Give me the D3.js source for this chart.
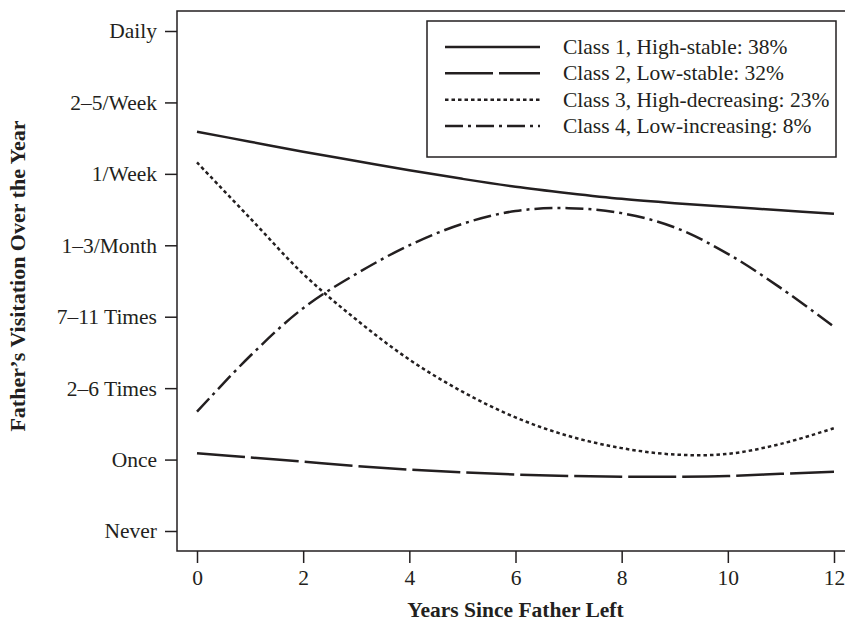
<!DOCTYPE html>
<html>
<head>
<meta charset="utf-8">
<script src="https://cdn.jsdelivr.net/npm/d3@7"></script>
<style>
  html, body { margin: 0; padding: 0; background: #fff; }
  svg { display: block; }
  text { font-family: "Liberation Serif", "Times New Roman", serif; fill: #231f20; }
</style>
</head>
<body>
<div id="chart"></div>
<script>
// data (years since father left, 0..12)
const years = [0, 1, 2, 3, 4, 5, 6, 7, 8, 9, 10, 11, 12];
const xTicks = [0, 2, 4, 6, 8, 10, 12];
const yLabels = ['Never', 'Once', '2\u20136 Times', '7\u201311 Times', '1\u20133/Month', '1/Week', '2\u20135/Week', 'Daily'];

const class1 = [5.59, 5.45, 5.31, 5.18, 5.05, 4.93, 4.82, 4.73, 4.65, 4.59, 4.54, 4.49, 4.44];
const class2 = [1.09, 1.03, 0.97, 0.91, 0.86, 0.82, 0.79, 0.77, 0.76, 0.76, 0.77, 0.80, 0.83];
const class3 = [5.16, 4.38, 3.60, 2.96, 2.40, 1.95, 1.59, 1.33, 1.16, 1.07, 1.08, 1.22, 1.44];
const class4 = [1.67, 2.45, 3.12, 3.60, 4.00, 4.30, 4.48, 4.52, 4.45, 4.25, 3.88, 3.40, 2.86];

const seriesNames = ['Class 1, High-stable: 38%', 'Class 2, Low-stable: 32%',
                     'Class 3, High-decreasing: 23%', 'Class 4, Low-increasing: 8%'];
const dashes = [null, '48,6', '3.5,3', '18,5,3,5'];

const series = [class1, class2, class3, class4].map((vals, i) => ({
    name: seriesNames[i], dash: dashes[i],
    points: years.map((y, j) => ({year: y, v: vals[j]}))
}));

const width = 845, height = 623;
const frame = {left: 177, top: 11, bottom: 551};
const fs = '21.5px';

const svg = d3.select('#chart').append('svg')
    .attr('width', width).attr('height', height);

const x = d3.scaleLinear().domain([0, 12]).range([197, 834]);
const y = d3.scaleLinear().domain([0, 7]).range([531, 31]);

// frame (right edge is cropped off in the original)
svg.append('path')
    .attr('d', `M${width + 5},${frame.top}H${frame.left}V${frame.bottom}H${width + 5}`)
    .attr('fill', 'none').attr('stroke', '#231f20').attr('stroke-width', 1.5);

// y axis
const yAxis = svg.append('g').attr('transform', `translate(${frame.left},0)`)
    .call(d3.axisLeft(y).tickValues(d3.range(8)).tickFormat(i => yLabels[i])
        .tickSize(12).tickPadding(8));
yAxis.select('.domain').remove();
yAxis.selectAll('line').attr('stroke', '#231f20').attr('stroke-width', 1.5);
yAxis.selectAll('text').style('font-size', fs).attr('fill', '#231f20');

// x axis
const xAxis = svg.append('g').attr('transform', `translate(0,${frame.bottom})`)
    .call(d3.axisBottom(x).tickValues(xTicks).tickSize(12).tickPadding(7));
xAxis.select('.domain').remove();
xAxis.selectAll('line').attr('stroke', '#231f20').attr('stroke-width', 1.5);
xAxis.selectAll('text').style('font-size', fs).attr('fill', '#231f20');

// axis titles
svg.append('text')
    .attr('x', (x(0) + x(12)) / 2).attr('y', 617)
    .attr('text-anchor', 'middle')
    .style('font-size', '21.5px').style('font-weight', 'bold')
    .text('Years Since Father Left');

svg.append('text')
    .attr('transform', `translate(25,${(frame.top + frame.bottom) / 2 - 5}) rotate(-90)`)
    .attr('text-anchor', 'middle')
    .style('font-size', '22px').style('font-weight', 'bold')
    .text('Father\u2019s Visitation Over the Year');

// lines
const line = d3.line().x(d => x(d.year)).y(d => y(d.v)).curve(d3.curveCatmullRom);

svg.append('g').selectAll('path').data(series).join('path')
    .attr('d', d => line(d.points))
    .attr('fill', 'none')
    .attr('stroke', '#231f20')
    .attr('stroke-width', 2.5)
    .attr('stroke-dasharray', d => d.dash);

// legend
const legend = svg.append('g');
legend.append('rect')
    .attr('x', 427).attr('y', 21).attr('width', 409).attr('height', 136)
    .attr('fill', '#fff').attr('stroke', '#231f20').attr('stroke-width', 1.5);

const rowY = d3.scalePoint().domain(seriesNames).range([47, 126]);
const rows = legend.selectAll('g.row').data(series).join('g')
    .attr('class', 'row')
    .attr('transform', d => `translate(0,${rowY(d.name)})`);
rows.append('line')
    .attr('x1', 445).attr('x2', 540)
    .attr('stroke', '#231f20').attr('stroke-width', 2.5)
    .attr('stroke-dasharray', d => d.dash);
rows.append('text')
    .attr('x', 563).attr('dy', '0.33em')
    .style('font-size', fs)
    .text(d => d.name);
</script>
</body>
</html>
